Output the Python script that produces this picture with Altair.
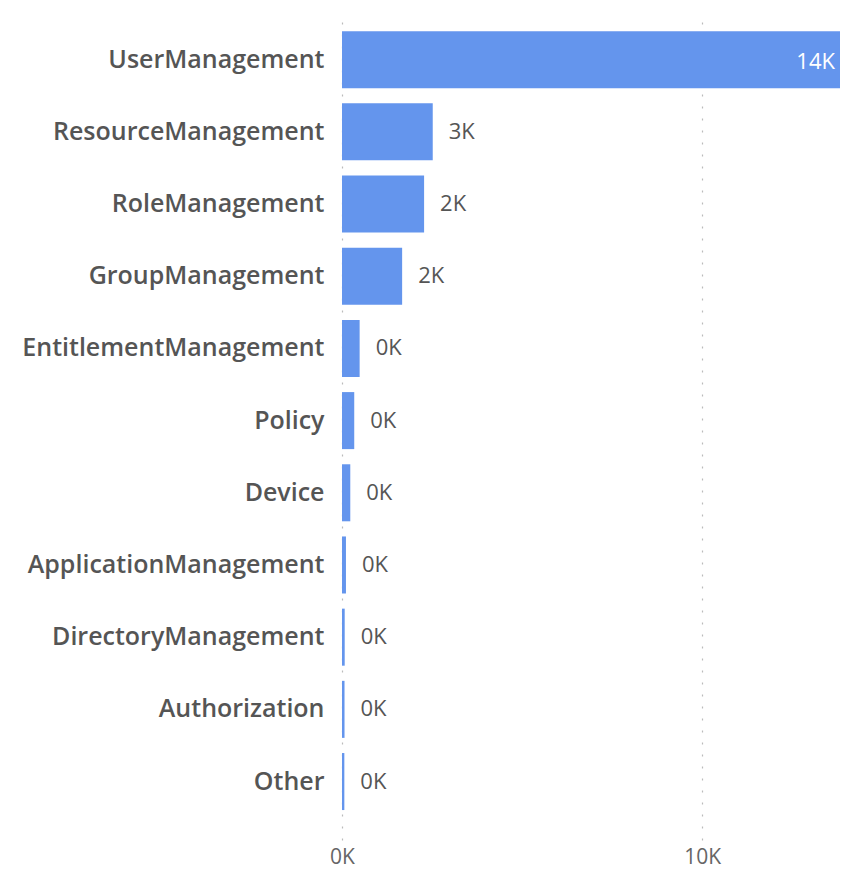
import altair as alt
import pandas as pd

categories = ["UserManagement", "ResourceManagement", "RoleManagement", "GroupManagement",
              "EntitlementManagement", "Policy", "Device", "ApplicationManagement",
              "DirectoryManagement", "Authorization", "Other"]
values = [14060, 2520, 2280, 1670, 490, 340, 230, 110, 75, 70, 65]
x_ticks = [0, 10000]
x_max = 13830

df = pd.DataFrame({"category": categories, "value": values})
df["label"] = [f"{round(v / 1000):.0f}K" for v in values]
df["inside"] = [v == max(values) for v in values]
df["shown"] = [min(v, x_max) for v in values]

FONT = "Open Sans"

y_enc = alt.Y("category:N", sort=categories, title=None,
              scale=alt.Scale(paddingInner=0.21, paddingOuter=0.34, align=0.39),
              axis=alt.Axis(domain=False, ticks=False, labelPadding=18, labelFontSize=25,
                            labelFontWeight=600, labelColor="#555555", labelFont=FONT,
                            labelLimit=400))
x_enc = alt.X("value:Q", title=None,
              scale=alt.Scale(domain=[0, x_max], nice=False, zero=True),
              axis=alt.Axis(values=x_ticks, labelExpr="datum.value / 1000 + 'K'",
                            domain=False, ticks=False, labelPadding=6, labelFontSize=21,
                            labelColor="#666666", labelFont=FONT, grid=True,
                            gridDash=[2, 10], gridColor="#bbbbbb", gridWidth=1.2,
                            labelBaseline="top", labelFlush=False))

base = alt.Chart(df)

bars = base.mark_bar(color="#6495ED", clip=True).encode(y=y_enc, x=x_enc)

labels_out = base.transform_filter("!datum.inside").mark_text(
    align="left", baseline="middle", dx=16, fontSize=22, color="#555555", font=FONT
).encode(y=alt.Y("category:N", sort=categories), x="value:Q", text="label:N")

labels_in = base.transform_filter("datum.inside").mark_text(
    align="right", baseline="middle", dx=-5, dy=2, fontSize=22, color="white", font=FONT
).encode(y=alt.Y("category:N", sort=categories), x="shown:Q", text="label:N")

chart = (bars + labels_out + labels_in).properties(
    width=498, height=828,
    autosize=alt.AutoSizeParams(type="none"),
    padding={"left": 334, "top": 4, "right": 0, "bottom": 28},
).configure_view(stroke=None)

chart.save("out.html", embed_options={"renderer": "svg", "actions": False})
